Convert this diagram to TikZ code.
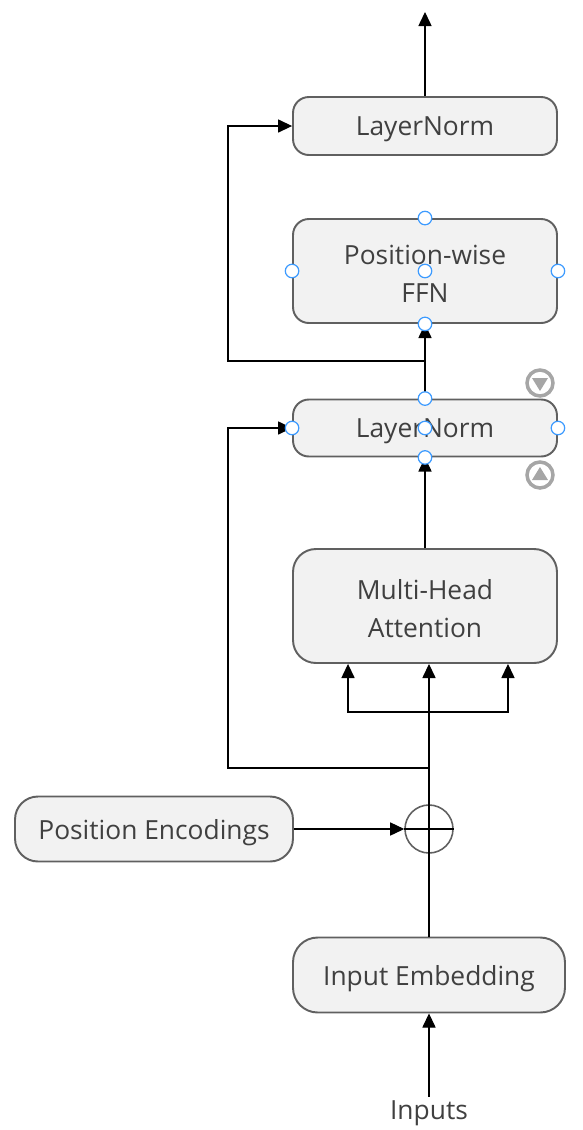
\documentclass[tikz,border=0pt]{standalone}
\usepackage{fontspec}
\setmainfont{Open Sans}
\usepackage{tikz}
\usetikzlibrary{arrows.meta,positioning,calc}
\definecolor{boxfill}{HTML}{F2F2F2}
\definecolor{boxline}{HTML}{606060}
\definecolor{textgray}{HTML}{404040}
\definecolor{handleblue}{HTML}{3D9BFF}
\definecolor{btngray}{HTML}{A6A6A6}
\tikzset{
  block/.style={draw=boxline, line width=1.1pt, fill=boxfill, rounded corners=9pt,
    minimum width=5.28cm, text=textgray, inner sep=0pt, text depth=-1pt,
    font=\fontsize{15}{21.8}\selectfont},
  twoline/.style={text depth=13pt},
  flow/.style={-{Triangle[length=8pt,width=7.5pt]}, line width=0.6pt},
  handle/.style={circle, draw=handleblue, fill=white, line width=0.7pt,
    minimum size=0.27cm, inner sep=0pt},
}

\begin{document}
\begin{tikzpicture}[x=0.02cm, y=-0.02cm]
\useasboundingbox (0,0) rectangle (582,1130);

% ---- Blocks ----
\node[block, minimum height=1.16cm] (ln1) at (425,126) {LayerNorm};
\node[block, twoline, minimum height=2.08cm] (ffn) at (425,271) {\begin{tabular}{@{}c@{}}Position-wise\\FFN\end{tabular}};
\node[block, minimum height=1.14cm] (ln2) at (425,428) {LayerNorm};
\node[block, twoline, minimum height=2.28cm, rounded corners=13pt] (mha) at (425,606) {\begin{tabular}{@{}c@{}}Multi-Head\\Attention\end{tabular}};
\node[block, minimum width=5.56cm, minimum height=1.3cm, rounded corners=13pt] (posenc) at (154,829) {Position Encodings};
\node[block, minimum width=5.44cm, minimum height=1.5cm, rounded corners=14pt] (emb) at (429,975) {Input Embedding};
\node[circle, draw=boxline, line width=0.9pt, minimum size=0.96cm, inner sep=0pt] (plus) at (429,829) {};
\node[text=textgray, font=\fontsize{15}{18}\selectfont, inner sep=2pt] (inputs) at (429,1113) {Inputs};

% ---- Helper points ----
\coordinate (out) at (425,12);
\coordinate (split) at (429,712);
\coordinate (res1) at (429,768);
\coordinate (res2) at (425,361);

% ---- Main path ----
\draw[flow] (inputs.north) -- (emb.south);
\draw[line width=1.3pt] (emb.north) -- (split);
\draw[line width=1.3pt] (plus.west) -- (plus.east);
\draw[flow] (posenc.east) -- (plus.west);
\draw[flow] (split) -- (split |- mha.south);
\draw[flow] (split) -| ([xshift=-1.62cm]split |- mha.south);
\draw[flow] (split) -| ([xshift=1.58cm]split |- mha.south);
\draw[flow] (mha.north) -- (ln2.south);
\draw[flow] (ln2.north) -- (ffn.south);
\draw[flow] (ln1.north) -- (out);

% ---- Residual connections ----
\draw[flow] (res1) -| (228,428) -- (ln2.west);
\draw[flow] (res2) -| (228,126) -- (ln1.west);

% ---- Selection handles ----
\foreach \nd in {ffn,ln2} {
  \foreach \an in {north,south,west,east,center} {
    \node[handle] at (\nd.\an) {};
  }
}

% ---- Move buttons ----
\draw[btngray, line width=2pt] (540,383) circle (13);
\fill[btngray] (532,378) -- (548,378) -- (540,391) -- cycle;
\draw[btngray, line width=2pt] (540,475) circle (13);
\fill[btngray] (532,480) -- (548,480) -- (540,467) -- cycle;

\end{tikzpicture}
\end{document}
